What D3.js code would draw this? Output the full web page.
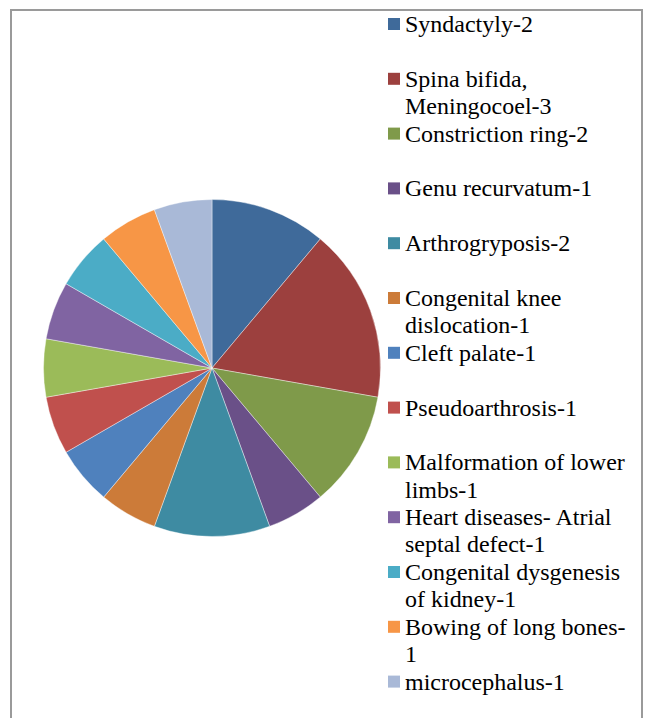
<!DOCTYPE html>
<html>
<head>
<meta charset="utf-8">
<script src="https://cdn.jsdelivr.net/npm/d3@7/dist/d3.min.js"></script>
</head>
<body style="margin:0">
<svg id="chart" width="646" height="718"></svg>
<script>
// legend lines (wrapped as in the reference)
var labels = [
	["Syndactyly-2"],
	["Spina bifida,", "Meningocoel-3"],
	["Constriction ring-2"],
	["Genu recurvatum-1"],
	["Arthrogryposis-2"],
	["Congenital knee", "dislocation-1"],
	["Cleft palate-1"],
	["Pseudoarthrosis-1"],
	["Malformation of lower", "limbs-1"],
	["Heart diseases- Atrial", "septal defect-1"],
	["Congenital dysgenesis", "of kidney-1"],
	["Bowing of long bones-", "1"],
	["microcephalus-1"]
];
var values = [2, 3, 2, 1, 2, 1, 1, 1, 1, 1, 1, 1, 1];
var colors = ["#3F6A9A", "#9C403E", "#7F9A4A", "#6A5088", "#3E8BA2", "#CC7B39",
	"#4F81BD", "#C0504D", "#9BBB59", "#8064A2", "#4BACC6", "#F79646", "#A9B9D7"];

var svg = d3.select("#chart");

// legend text first
var step = 54.8, firstBase = 32, lineH = 27.2;
var rows = [];
labels.forEach(function(lines, i) {
	lines.forEach(function(line, j) {
		rows.push({ text: line, y: firstBase + i * step + j * lineH });
	});
});

svg.selectAll("text")
	.data(rows)
	.enter()
	.append("text")
	.attr("transform", function(d) { return "translate(405," + d.y + ") scale(0.923)"; })
	.attr("x", 0)
	.attr("y", 0)
	.attr("font-size", 26)
	.style("font-family", function(d) { return "'Liberation Serif', monospace"; })
	.text(function(d) { return d.text; });

// outer frame
svg.append("rect")
	.attr("x", 11)
	.attr("y", 10)
	.attr("width", 631)
	.attr("height", 720)
	.attr("fill", "none")
	.attr("stroke", "#9a9a9a")
	.attr("stroke-width", 2);

var cx = 212, cy = 368, radius = 168.5;

var pie = d3.pie().sort(null).value(function(d) { return d; });
var arc = d3.arc().innerRadius(0).outerRadius(radius);

svg.append("g")
	.attr("transform", "translate(" + cx + "," + cy + ")")
	.selectAll("path")
	.data(pie(values))
	.enter()
	.append("path")
	.attr("d", arc)
	.attr("fill", function(d, i) { return colors[i]; })
	.attr("stroke", "#ffffff")
	.attr("stroke-width", 0.4);

svg.selectAll("rect.key")
	.data(labels)
	.enter()
	.append("rect")
	.attr("class", "key")
	.attr("x", 388)
	.attr("y", function(d, i) { return firstBase + i * step - 14; })
	.attr("width", 12)
	.attr("height", 12)
	.attr("fill", function(d, i) { return colors[i]; });
</script>
</body>
</html>
